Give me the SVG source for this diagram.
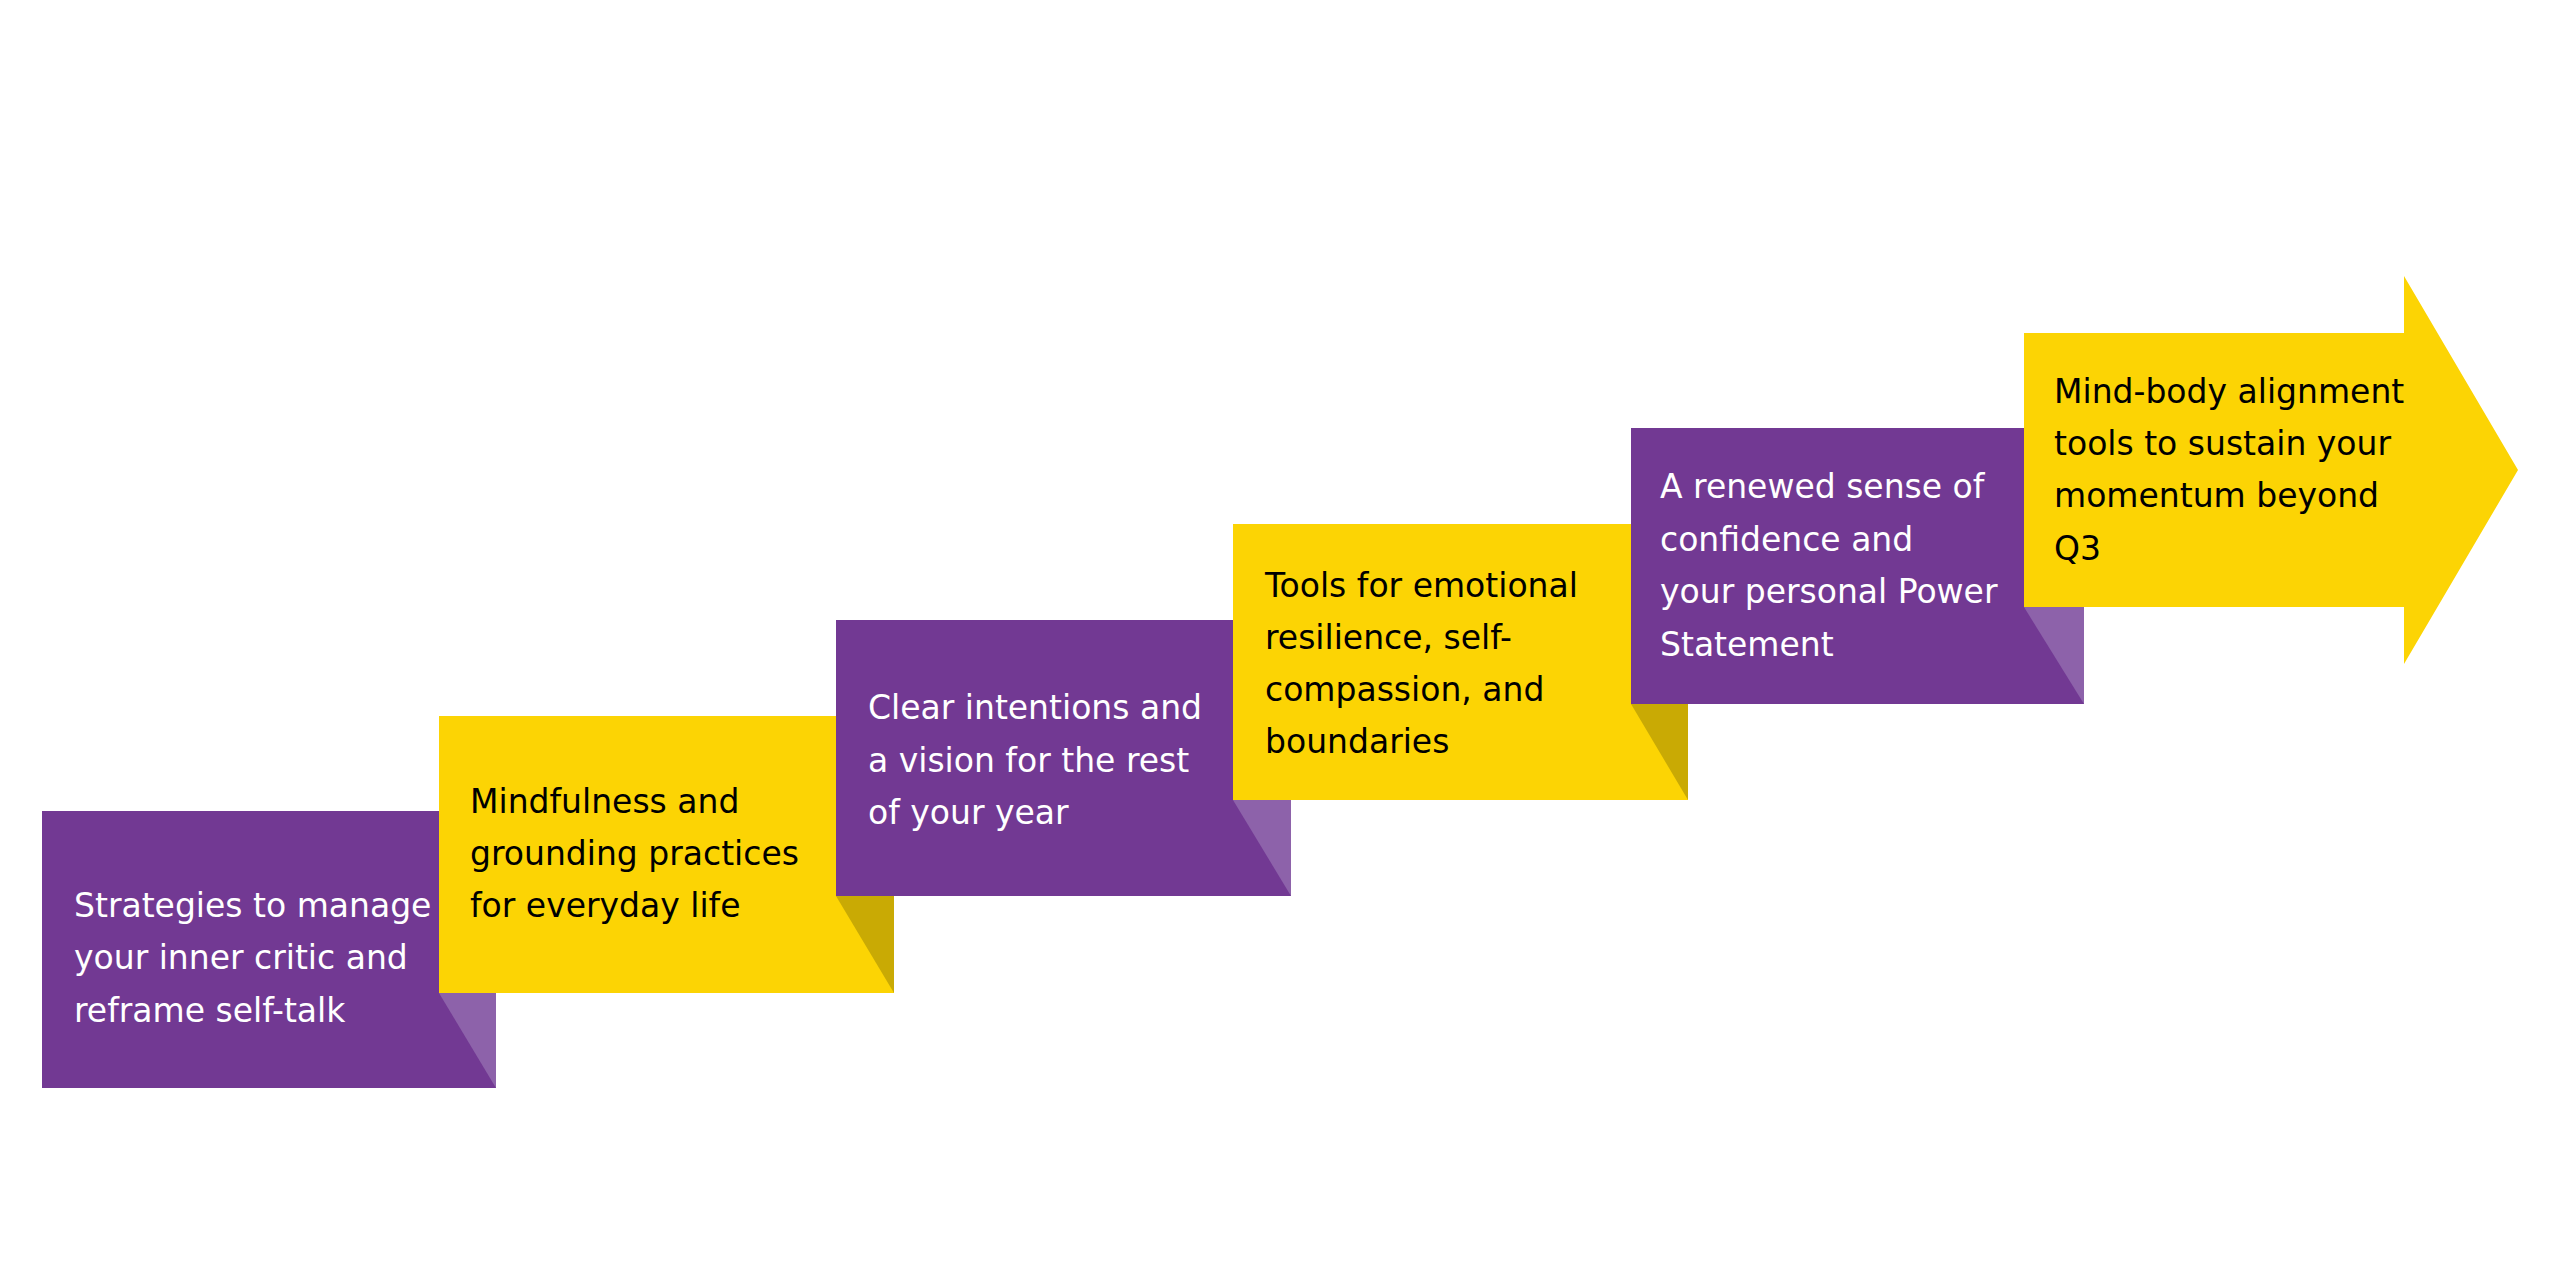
<svg xmlns="http://www.w3.org/2000/svg" width="2560" height="1280" viewBox="0 0 2560 1280">
<style>
.p{fill:#723993;}
.pf{fill:#8d62aa;}
.y{fill:#fcd404;}
.yf{fill:#c9aa04;}
text{font-family:"DejaVu Sans","Liberation Sans",sans-serif;font-size:33px;}
.tw{fill:#ffffff;}
.tb{fill:#000000;}
</style>
<rect width="2560" height="1280" fill="#ffffff"/>
<g id="step1">
<rect class="p" x="42" y="811" width="454" height="277"/>
<polygon class="pf" points="439,993 496,993 496,1088"/>
<text class="tw" x="74" y="917">Strategies to manage</text>
<text class="tw" x="74" y="969">your inner critic and</text>
<text class="tw" x="74" y="1022">reframe self-talk</text>
</g>
<g id="step2">
<rect class="y" x="439" y="716" width="455" height="277"/>
<polygon class="yf" points="836,896 894,896 894,993"/>
<text class="tb" x="470" y="813">Mindfulness and</text>
<text class="tb" x="470" y="865">grounding practices</text>
<text class="tb" x="470" y="917">for everyday life</text>
</g>
<g id="step3">
<rect class="p" x="836" y="620" width="455" height="276"/>
<polygon class="pf" points="1233,800 1291,800 1291,896"/>
<text class="tw" x="868" y="719">Clear intentions and</text>
<text class="tw" x="868" y="772">a vision for the rest</text>
<text class="tw" x="868" y="824">of your year</text>
</g>
<g id="step4">
<rect class="y" x="1233" y="524" width="455" height="276"/>
<polygon class="yf" points="1631,704 1688,704 1688,800"/>
<text class="tb" x="1265" y="597">Tools for emotional</text>
<text class="tb" x="1265" y="649">resilience, self-</text>
<text class="tb" x="1265" y="701">compassion, and</text>
<text class="tb" x="1265" y="753">boundaries</text>
</g>
<g id="step5">
<rect class="p" x="1631" y="428" width="453" height="276"/>
<polygon class="pf" points="2024,607 2084,607 2084,704"/>
<text class="tw" x="1660" y="498">A renewed sense of</text>
<text class="tw" x="1660" y="551">confidence and</text>
<text class="tw" x="1660" y="603">your personal Power</text>
<text class="tw" x="1660" y="656">Statement</text>
</g>
<g id="step6">
<polygon class="y" points="2024,333 2404,333 2404,276 2518,470 2404,664 2404,607 2024,607"/>
<text class="tb" x="2054" y="403">Mind-body alignment</text>
<text class="tb" x="2054" y="455">tools to sustain your</text>
<text class="tb" x="2054" y="507">momentum beyond</text>
<text class="tb" x="2054" y="560">Q3</text>
</g>
<g id="connectors"></g>
</svg>
